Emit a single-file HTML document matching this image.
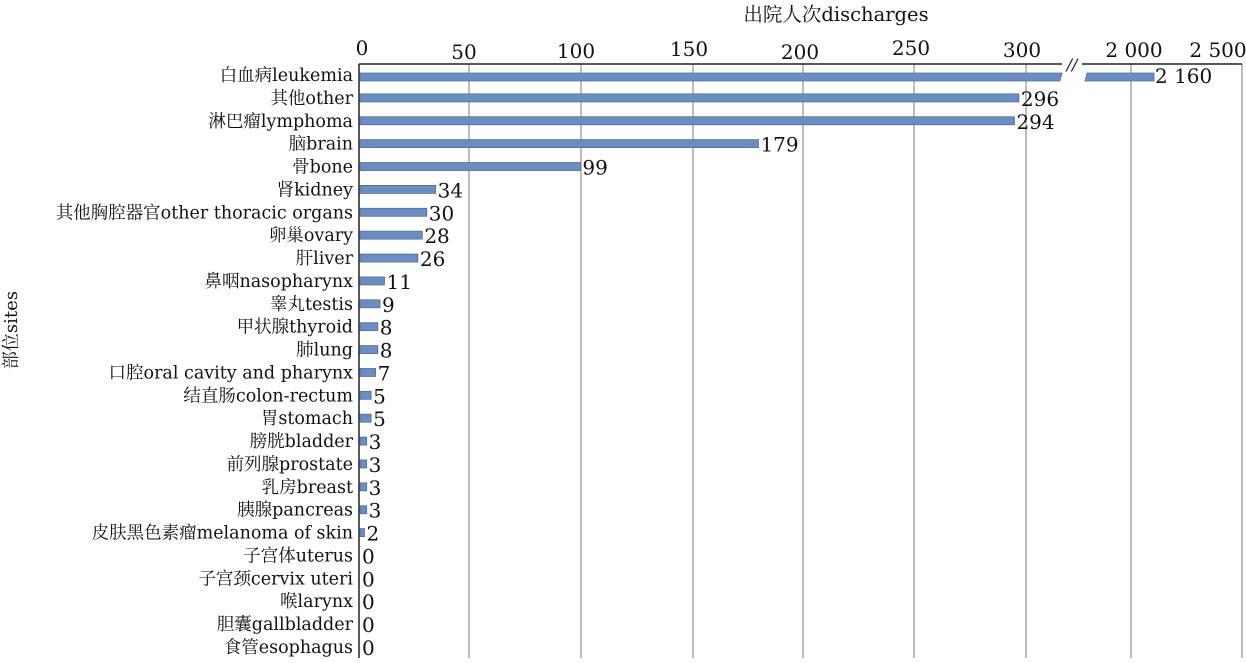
<!DOCTYPE html>
<html><head><meta charset="utf-8"><style>
html,body{margin:0;padding:0;background:#fff;}
svg text{font-family:"DejaVu Serif","Noto Serif CJK SC",serif;fill:#111;}
</style></head><body>
<svg width="1246" height="658" xmlns="http://www.w3.org/2000/svg">
<text x="836" y="21" font-size="19.5" text-anchor="middle">出院人次discharges</text>
<g stroke="#999" stroke-width="1.3">
<line x1="469" y1="64" x2="469" y2="658"/><line x1="581" y1="64" x2="581" y2="658"/>
<line x1="693" y1="64" x2="693" y2="658"/><line x1="803" y1="64" x2="803" y2="658"/>
<line x1="914" y1="64" x2="914" y2="658"/><line x1="1026" y1="64" x2="1026" y2="658"/>
<line x1="1131" y1="64" x2="1131" y2="658"/><line x1="1242" y1="64" x2="1242" y2="658"/>
</g>
<line x1="359" y1="64" x2="1242" y2="64" stroke="#222" stroke-width="1.5"/>
<line x1="359" y1="64" x2="359" y2="658" stroke="#222" stroke-width="1.5"/>
<g font-size="20" text-anchor="middle">
<text x="362" y="55">0</text><text x="464" y="59">50</text><text x="576" y="58">100</text>
<text x="689" y="56">150</text><text x="800" y="59">200</text><text x="911" y="55">250</text>
<text x="1022" y="57">300</text><text x="1134" y="57">2 000</text><text x="1218" y="57">2 500</text>
</g>
<rect x="1062" y="58" width="20" height="10" fill="#fff"/>
<text x="1072" y="70" font-size="16" text-anchor="middle" font-style="italic">//</text>
<g fill="#6c8dc0" stroke="#4f6fa0" stroke-width="0.8">
<polygon points="360,73 1062,73 1060,81 360,81"/>
<polygon points="1087,73 1154,73 1154,81 1085,81"/>
</g>
<g id="bars" fill="#6c8dc0" stroke="#4f6fa0" stroke-width="0.8"></g>
<g font-size="17.5" text-anchor="end" id="labs"></g>
<g font-size="20" id="vals"></g>
<text transform="translate(17,330) rotate(-90)" font-size="18" text-anchor="middle">部位sites</text>
<script>
var d=[["白血病leukemia",2160],["其他other",296],["淋巴瘤lymphoma",294],["脑brain",179],["骨bone",99],["肾kidney",34],["其他胸腔器官other thoracic organs",30],["卵巢ovary",28],["肝liver",26],["鼻咽nasopharynx",11],["睾丸testis",9],["甲状腺thyroid",8],["肺lung",8],["口腔oral cavity and pharynx",7],["结直肠colon-rectum",5],["胃stomach",5],["膀胱bladder",3],["前列腺prostate",3],["乳房breast",3],["胰腺pancreas",3],["皮肤黑色素瘤melanoma of skin",2],["子宫体uterus",0],["子宫颈cervix uteri",0],["喉larynx",0],["胆囊gallbladder",0],["食管esophagus",0]];
var ns="http://www.w3.org/2000/svg",b=document.getElementById("bars"),l=document.getElementById("labs"),v=document.getElementById("vals");
d.forEach(function(r,i){var y=75+i*22.88;
var t=document.createElementNS(ns,"text");t.setAttribute("x",353);t.setAttribute("y",y+6);t.textContent=r[0];l.appendChild(t);
if(i>0){var w=r[1]*2.226;if(w>0){var re=document.createElementNS(ns,"rect");re.setAttribute("x",360);re.setAttribute("y",y-4);re.setAttribute("width",w);re.setAttribute("height",8);b.appendChild(re);}
var tv=document.createElementNS(ns,"text");tv.setAttribute("x",362+w);tv.setAttribute("y",y+8);tv.textContent=r[1];v.appendChild(tv);}
else{var tv=document.createElementNS(ns,"text");tv.setAttribute("x",1155);tv.setAttribute("y",y+8);tv.textContent="2 160";v.appendChild(tv);}
});
</script>
</svg>
</body></html>
